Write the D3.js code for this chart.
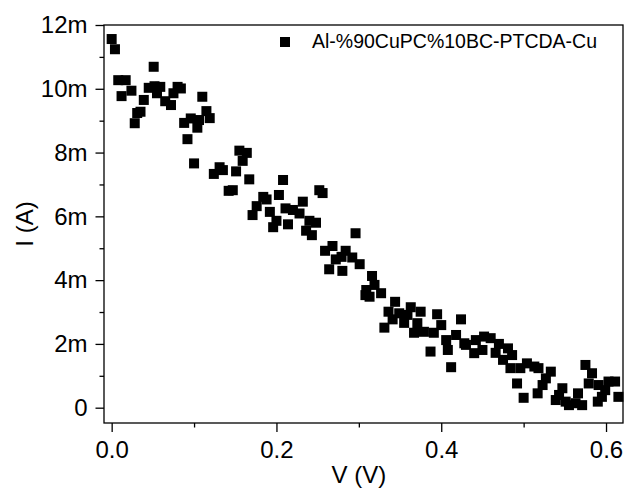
<!DOCTYPE html>
<html>
<head>
<meta charset="utf-8">
<script src="https://cdn.jsdelivr.net/npm/d3@7"></script>
<style>
  body { margin: 0; background: #fff; }
  svg { font-family: "Liberation Sans", Arial, sans-serif; }
</style>
</head>
<body>
<script>
var seriesName = "Al-%90CuPC%10BC-PTCDA-Cu";

var voltage = [0.000, 0.004, 0.008, 0.012, 0.017, 0.024, 0.028, 0.031, 0.035, 0.039,
               0.045, 0.051, 0.052, 0.055, 0.059, 0.065, 0.072, 0.075, 0.080, 0.084,
               0.088, 0.092, 0.096, 0.100, 0.104, 0.106, 0.110, 0.115, 0.119, 0.124,
               0.131, 0.135, 0.142, 0.147, 0.151, 0.155, 0.159, 0.164, 0.167, 0.171,
               0.176, 0.184, 0.188, 0.192, 0.196, 0.200, 0.203, 0.208, 0.211, 0.214,
               0.220, 0.228, 0.232, 0.236, 0.240, 0.243, 0.248, 0.252, 0.256, 0.259,
               0.264, 0.268, 0.272, 0.279, 0.280, 0.284, 0.292, 0.296, 0.301, 0.308,
               0.309, 0.313, 0.316, 0.319, 0.327, 0.331, 0.336, 0.341, 0.344, 0.349,
               0.355, 0.359, 0.363, 0.367, 0.371, 0.375, 0.379, 0.387, 0.391, 0.395,
               0.400, 0.406, 0.408, 0.412, 0.418, 0.424, 0.428, 0.430, 0.440, 0.442,
               0.450, 0.452, 0.460, 0.466, 0.470, 0.475, 0.481, 0.484, 0.486, 0.492,
               0.496, 0.500, 0.504, 0.513, 0.517, 0.518, 0.523, 0.527, 0.533, 0.539,
               0.543, 0.547, 0.551, 0.555, 0.563, 0.566, 0.571, 0.575, 0.579, 0.583,
               0.590, 0.591, 0.595, 0.599, 0.603, 0.611, 0.615];

// current in mA
var current = [11.56, 11.24, 10.27, 9.77, 10.27, 9.94, 8.92, 9.24, 9.28, 9.65,
               10.03, 10.69, 10.08, 9.86, 10.06, 9.61, 9.49, 9.86, 10.06, 10.01,
               8.93, 8.42, 9.07, 7.66, 8.78, 9.02, 9.75, 9.30, 9.08, 7.33,
               7.54, 7.45, 6.80, 6.82, 7.41, 8.06, 7.74, 7.99, 7.16, 6.04,
               6.32, 6.61, 6.53, 6.14, 5.66, 5.86, 6.67, 7.14, 6.25, 5.75,
               6.20, 6.09, 6.46, 5.55, 5.86, 5.41, 5.80, 6.82, 6.73, 4.92,
               4.34, 5.07, 4.65, 4.73, 4.29, 4.92, 4.71, 5.47, 4.50, 3.53,
               3.69, 3.48, 4.13, 3.85, 3.59, 2.51, 3.01, 2.77, 3.32, 2.96,
               2.66, 2.91, 3.15, 2.35, 2.65, 3.01, 2.38, 1.76, 2.35, 2.93,
               2.59, 2.12, 1.81, 1.27, 2.28, 2.77, 2.02, 1.97, 1.71, 2.12,
               1.81, 2.23, 2.18, 1.72, 2.00, 1.50, 1.86, 1.24, 1.65, 0.76,
               1.24, 0.31, 1.39, 1.29, 0.45, 1.24, 0.71, 0.92, 1.13, 0.24,
               0.40, 0.61, 0.19, 0.08, 0.14, 0.45, 0.08, 1.34, 0.76, 1.08,
               0.19, 0.71, 0.34, 0.55, 0.82, 0.82, 0.34];

var xTicks      = [0, 0.2, 0.4, 0.6];
var xTickLabels = ["0.0", "0.2", "0.4", "0.6"];
var xMinor      = [0.1, 0.3, 0.5];
var yTicks      = [0, 2, 4, 6, 8, 10, 12];
var yTickLabels = ["0", "2m", "4m", "6m", "8m", "10m", "12m"];
var yMinor      = [1, 3, 5, 7, 9, 11];

var width  = 638;
var height = 494;
var margin = { top: 25, right: 15, bottom: 71, left: 104 };
var plotW  = width - margin.left - margin.right;
var plotH  = height - margin.top - margin.bottom;

var x = d3.scaleLinear().domain([-0.0093, 0.6206]).range([0, plotW]);
var y = d3.scaleLinear().domain([-0.48, 12]).range([plotH, 0]);

var svg = d3.select("body").append("svg")
    .attr("width", width)
    .attr("height", height);

var g = svg.append("g")
    .attr("transform", "translate(" + margin.left + "," + margin.top + ")");

// points
var pts = voltage.map(function(v, i) { return { v: v, c: current[i] }; });
var mark = 10;

g.selectAll("rect.pt")
  .data(pts)
  .enter().append("rect")
    .attr("class", "pt")
    .attr("x", function(d) { return x(d.v) - mark / 2; })
    .attr("y", function(d) { return y(d.c) - mark / 2; })
    .attr("width", mark)
    .attr("height", mark)
    .style("fill", "#000");

// axes: major ticks with labels, minor ticks without
var xAxis = g.append("g")
    .attr("transform", "translate(0," + plotH + ")")
    .call(d3.axisBottom(x).tickValues(xTicks).tickSize(9).tickPadding(9)
            .tickFormat(function(d, i) { return xTickLabels[i]; }));
g.append("g")
    .attr("transform", "translate(0," + plotH + ")")
    .call(d3.axisBottom(x).tickValues(xMinor).tickSize(4.5).tickFormat(""));

var yAxis = g.append("g")
    .call(d3.axisLeft(y).tickValues(yTicks).tickSize(8.5).tickPadding(8)
            .tickFormat(function(d, i) { return yTickLabels[i]; }));
g.append("g")
    .call(d3.axisLeft(y).tickValues(yMinor).tickSize(4.5).tickFormat(""));

g.selectAll(".domain").remove();
g.selectAll(".tick line").attr("stroke", "#000").attr("stroke-width", 1.3);
g.selectAll(".tick text")
    .attr("fill", "#000")
    .style("font-size", "24px")
    .style("font-family", "'Liberation Sans', Arial, sans-serif");

// frame
g.append("rect")
    .attr("x", 0).attr("y", 0)
    .attr("width", plotW).attr("height", plotH)
    .style("fill", "none")
    .style("stroke", "#000")
    .style("stroke-width", 1.3);

// axis titles
svg.append("text")
    .attr("x", margin.left + x(0.3))
    .attr("y", 483)
    .attr("text-anchor", "middle")
    .style("font-size", "24px")
    .text("V (V)");

svg.append("text")
    .attr("transform", "translate(33," + (margin.top + plotH / 2) + ") rotate(-90)")
    .attr("text-anchor", "middle")
    .style("font-size", "24px")
    .text("I (A)");

// legend
var legend = svg.append("g").attr("transform", "translate(285,42)");
legend.append("rect")
    .attr("x", -5).attr("y", -5)
    .attr("width", mark).attr("height", mark)
    .style("fill", "#000");
legend.append("text")
    .attr("x", 27)
    .attr("y", 6)
    .style("font-size", "19.5px")
    .text(seriesName);
</script>
</body>
</html>
